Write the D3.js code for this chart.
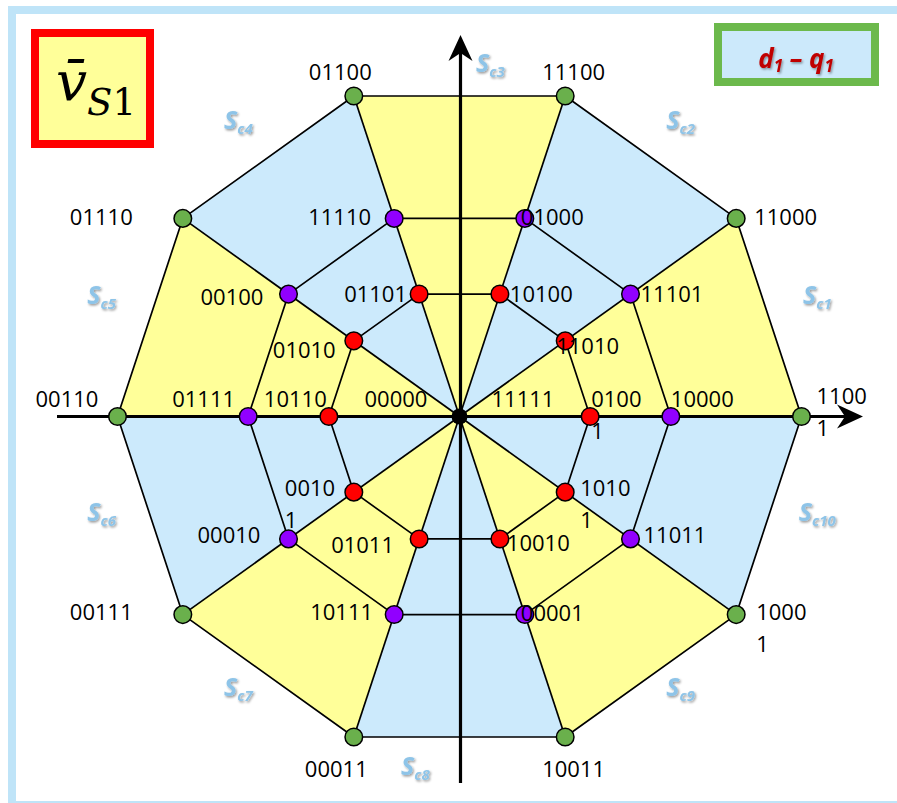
<!DOCTYPE html>
<html>
<head>
<meta charset="utf-8">
<script src="https://cdn.jsdelivr.net/npm/d3@7"></script>
<style>
  html, body { margin: 0; padding: 0; background: #ffffff; }
  svg { display: block; }
</style>
</head>
<body>
<svg id="chart" width="897" height="803"></svg>
<script>
// Spoke directions of the active vectors, degrees counter-clockwise from the d1 axis
const spokeAngles = [0, 36, 72, 108, 144, 180, 216, 252, 288, 324];
// Relative magnitudes of the three vector rings (large, medium, small)
const ringMagnitudes = [1, 0.618, 0.382];
// Switching states on each ring, in spoke order
const largeVectors  = ["11001", "11000", "11100", "01100", "01110", "00110", "00111", "00011", "10011", "10001"];
const mediumVectors = ["10000", "11101", "01000", "11110", "00100", "01111", "00010", "10111", "00001", "11011"];
const smallVectors  = ["01001", "11010", "10100", "01101", "01010", "10110", "00101", "01011", "10010", "10101"];
const zeroVectors   = ["00000", "11111"];
// Sector names, sector k spans spokes k-1 .. k
const sectorNames = ["c1", "c2", "c3", "c4", "c5", "c6", "c7", "c8", "c9", "c10"];

// ---- presentation settings ----
const COLORS = {
  yellow: "#ffff99", blue: "#cceafc",
  large: "#6ab04c", medium: "#9100ff", small: "#ff0000",
  frame: "#bfe4f8"
};
const ringColor = [COLORS.large, COLORS.medium, COLORS.small];
const codeFont = "'Open Sans', 'Liberation Sans', sans-serif";

// Label placement relative to each vector point (pixels); wrapped labels break after 4 digits
const labelOffset = {
  "11001": [15, -13], "11000": [18, 7], "11100": [-23, -16], "01100": [-45, -16], "01110": [-113, 7],
  "00110": [-82, -10], "00111": [-113, 5], "00011": [-49, 40], "10011": [-23, 40], "10001": [20, 5],
  "10000": [0, -10], "11101": [10, 8], "01000": [-4, 7], "11110": [-86, 7], "00100": [-88, 11],
  "01111": [-76, -10], "00010": [-91, 4], "10111": [-84, 5], "00001": [-4, 6], "11011": [13, 4],
  "01001": [1, -10], "11010": [-9, 13], "10100": [10, 8], "01101": [-75, 8], "01010": [-81, 17],
  "10110": [-65, -10], "00101": [-69, 4], "01011": [-88, 14], "10010": [7, 12], "10101": [15, 4],
  "00000": [-95, -10], "11111": [32, -10]
};
const wrapped = new Set(["11001", "10001", "01001", "00101", "10101"]);

const svg = d3.select("#chart");

// Drop shadow used by the sector names and the frame caption
const defs = svg.append("defs");
const shadow = defs.append("filter").attr("id", "soft-shadow")
  .attr("x", "-30%").attr("y", "-30%").attr("width", "160%").attr("height", "160%");
shadow.append("feDropShadow").attr("dx", 1.2).attr("dy", 1.5)
  .attr("stdDeviation", 0.9).attr("flood-color", "#000").attr("flood-opacity", 0.4);

// Outer page frame
svg.append("rect").attr("x", 12).attr("y", 10).attr("width", 900).attr("height", 795)
  .attr("fill", "none").attr("stroke", COLORS.frame).attr("stroke-width", 8);

// d-q plane scales
const x = d3.scaleLinear().domain([-1, 1]).range([117.5, 801.5]);
const y = d3.scaleLinear().domain([-1, 1]).range([753.5, 79.5]);
const rad = deg => deg * Math.PI / 180;
const polar = (r, deg) => [x(r * Math.cos(rad(deg))), y(r * Math.sin(rad(deg)))];
const origin = polar(0, 0);

const rings = [largeVectors, mediumVectors, smallVectors].map((codes, ri) =>
  codes.map((code, i) => {
    const [px, py] = polar(ringMagnitudes[ri], spokeAngles[i]);
    return { code, px, py, ring: ri, idx: i };
  })
);

// Sector shading: alternate yellow / blue
const n = spokeAngles.length;
svg.append("g").selectAll("path").data(d3.range(n)).join("path")
  .attr("d", i => {
    const a = rings[0][i], b = rings[0][(i + 1) % n];
    return d3.line()([origin, [a.px, a.py], [b.px, b.py]]) + "Z";
  })
  .attr("fill", i => (i % 2 === 0 ? COLORS.yellow : COLORS.blue))
  .attr("stroke", "none");

// Ring polygons and spokes
const gLines = svg.append("g").attr("stroke", "#000").attr("stroke-width", 1.7).attr("fill", "none");
rings.forEach(ring => {
  gLines.append("path")
    .attr("d", d3.line()(ring.map(p => [p.px, p.py])) + "Z")
    .attr("stroke-linejoin", "round");
});
gLines.selectAll("line.spoke").data(rings[0]).join("line").attr("class", "spoke")
  .attr("x1", origin[0]).attr("y1", origin[1])
  .attr("x2", d => d.px).attr("y2", d => d.py);

// Axes with arrowheads
const gAxes = svg.append("g");
const axisY = y(0), axisX = x(0);
gAxes.append("line").attr("x1", 57).attr("y1", axisY).attr("x2", 850).attr("y2", axisY)
  .attr("stroke", "#000").attr("stroke-width", 3.2);
gAxes.append("line").attr("x1", axisX + 1).attr("y1", 783).attr("x2", axisX + 1).attr("y2", 48)
  .attr("stroke", "#000").attr("stroke-width", 3.2);
function arrowHead(tx, ty, dirX, dirY) {
  // stealth-style head pointing along (dirX, dirY)
  const len = 26, half = 12, notch = 18;
  const nx = -dirY, ny = dirX;
  const bx = tx - dirX * len, by = ty - dirY * len;
  const cx = tx - dirX * notch, cy = ty - dirY * notch;
  return `M${tx},${ty}L${bx + nx * half},${by + ny * half}L${cx},${cy}L${bx - nx * half},${by - ny * half}Z`;
}
gAxes.append("path").attr("d", arrowHead(863, axisY, 1, 0)).attr("fill", "#000");
gAxes.append("path").attr("d", arrowHead(axisX + 1, 35, 0, -1)).attr("fill", "#000");

// Vector points
const allPoints = rings.flat();
svg.append("g").selectAll("circle").data(allPoints).join("circle")
  .attr("cx", d => d.px).attr("cy", d => d.py).attr("r", 8.8)
  .attr("fill", d => ringColor[d.ring]).attr("stroke", "#000").attr("stroke-width", 1.5);
svg.append("circle").attr("cx", origin[0]).attr("cy", origin[1]).attr("r", 8).attr("fill", "#000");

// Switching-state labels
const labelData = allPoints.map(p => ({ code: p.code, px: p.px, py: p.py }))
  .concat(zeroVectors.map(code => ({ code, px: origin[0], py: origin[1] })));
const gLabels = svg.append("g").attr("font-family", codeFont).attr("font-size", 22).attr("fill", "#000");
labelData.forEach(d => {
  const [dx, dy] = labelOffset[d.code];
  const t = gLabels.append("text").attr("x", d.px + dx).attr("y", d.py + dy);
  if (wrapped.has(d.code)) {
    t.append("tspan").text(d.code.slice(0, 4));
    t.append("tspan").attr("x", d.px + dx).attr("dy", 32).text(d.code.slice(4));
  } else {
    t.text(d.code);
  }
});

// Sector names S_c1 .. S_c10
const gSectors = svg.append("g").attr("filter", "url(#soft-shadow)");
sectorNames.forEach((name, i) => {
  const mid = spokeAngles[i] + 18;
  let sx = x(1.1 * Math.cos(rad(mid)));
  let sy = y(1.04 * Math.sin(rad(mid))) - 4;
  if (Math.abs(Math.cos(rad(mid))) < 0.01) {
    sx = axisX + (Math.sin(rad(mid)) > 0 ? 31 : -44);
    sy += Math.sin(rad(mid)) > 0 ? 10 : 12;
  }
  const t = gSectors.append("text").attr("x", sx).attr("y", sy)
    .attr("text-anchor", "middle").attr("font-family", "'Open Sans', sans-serif")
    .attr("font-style", "italic").attr("font-weight", 700).attr("fill", "#8ec4e8");
  t.append("tspan").attr("font-size", 25).text("S");
  t.append("tspan").attr("font-size", 15).attr("dy", 5).text(name);
});

// Title box: space vector v̄S1
svg.append("rect").attr("x", 35).attr("y", 33).attr("width", 115).attr("height", 111)
  .attr("fill", COLORS.yellow).attr("stroke", "#ff0000").attr("stroke-width", 8);
const title = svg.append("text").attr("x", 56).attr("y", 100)
  .attr("font-family", "'DejaVu Serif', serif").attr("fill", "#000");
title.append("tspan").attr("font-style", "italic").attr("font-size", 55).text("v\u0304");
title.append("tspan").attr("font-style", "italic").attr("font-size", 37).attr("dy", 15).text("S");
title.append("tspan").attr("font-size", 37).text("1");

// Frame caption: d1 – q1
svg.append("rect").attr("x", 718).attr("y", 27).attr("width", 157).attr("height", 55)
  .attr("fill", "#cce9fb").attr("stroke", "#6cb94c").attr("stroke-width", 8);
const cap = svg.append("text").attr("x", 796).attr("y", 68).attr("text-anchor", "middle")
  .attr("font-family", "'Open Sans', sans-serif").attr("font-style", "italic").attr("font-weight", 700)
  .attr("fill", "#c00000").attr("filter", "url(#soft-shadow)");
cap.append("tspan").attr("font-size", 26).text("d");
cap.append("tspan").attr("font-size", 17).attr("dy", 4).text("1");
cap.append("tspan").attr("font-size", 26).attr("dy", -4).text(" \u2013 q");
cap.append("tspan").attr("font-size", 17).attr("dy", 4).text("1");
</script>
</body>
</html>
